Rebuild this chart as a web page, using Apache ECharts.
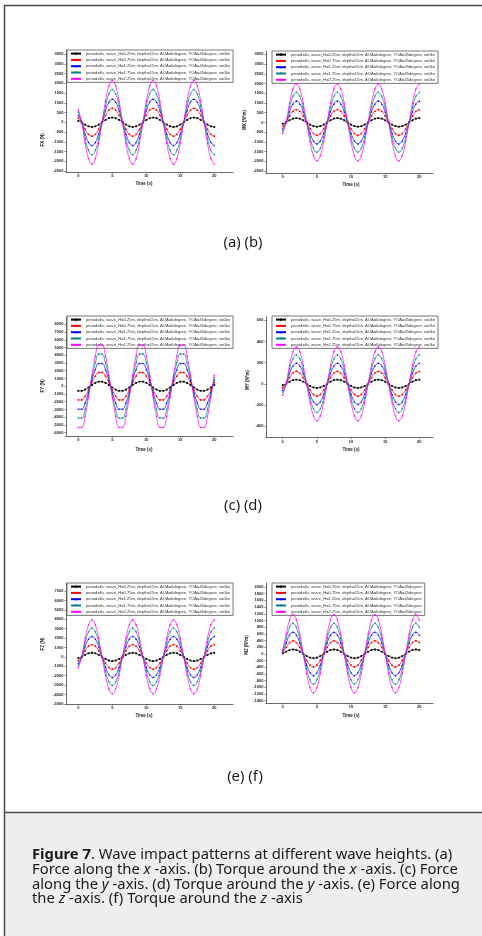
<!DOCTYPE html>
<html>
<head>
<meta charset="utf-8">
<script src="https://cdn.jsdelivr.net/npm/echarts@6/dist/echarts.min.js"></script>
<style>
html,body{margin:0;padding:0;background:#fff;}
#chart{width:482px;height:936px;}
</style>
</head>
<body>
<div id="chart"></div>
<script>
// ---------------- DATA ----------------
const time = [0,0.5,1,1.5,2,2.5,3,3.5,4,4.5,5,5.5,6,6.5,7,7.5,8,8.5,9,9.5,10,10.5,11,11.5,12,12.5,13,13.5,14,14.5,15,15.5,16,16.5,17,17.5,18,18.5,19,19.5,20];
const xTicks = [0,5,10,15,20];

const namesAE = [
  'period=6s, wave_H=0.25m, depth=15m, AOA=0degree, YOA=45degree, v=0kn',
  'period=6s, wave_H=0.75m, depth=15m, AOA=0degree, YOA=45degree, v=0kn',
  'period=6s, wave_H=1.25m, depth=15m, AOA=0degree, YOA=45degree, v=0kn',
  'period=6s, wave_H=1.75m, depth=15m, AOA=0degree, YOA=45degree, v=0kn',
  'period=6s, wave_H=2.25m, depth=15m, AOA=0degree, YOA=45degree, v=0kn'
];
const namesF = [
  'period=6s, wave_H=0.25m, depth=15m, AOA=0degree, YOA=45degree',
  'period=6s, wave_H=0.75m, depth=15m, AOA=0degree, YOA=45degree',
  'period=6s, wave_H=1.25m, depth=15m, AOA=0degree, YOA=45degree',
  'period=6s, wave_H=1.75m, depth=15m, AOA=0degree, YOA=45degree',
  'period=6s, wave_H=2.25m, depth=15m, AOA=0degree, YOA=45degree'
];

// (a) FX (N)
const fxTicks = [-2500,-2000,-1500,-1000,-500,0,500,1000,1500,2000,2500,3000,3500];
const fxBlack = [72,0,-120,-208,-240,-208,-120,0,120,208,240,208,120,0,-120,-208,-240,-208,-120,0,120,208,240,208,120,0,-120,-208,-240,-208,-120,0,120,208,240,208,120,0,-120,-208,-240];
const fxRed = [215,0,-358,-619,-715,-619,-358,0,358,619,715,619,358,0,-358,-619,-715,-619,-358,0,358,619,715,619,358,0,-358,-619,-715,-619,-358,0,358,619,715,619,358,0,-358,-619,-715];
const fxBlue = [357,0,-595,-1031,-1190,-1031,-595,0,595,1031,1190,1031,595,0,-595,-1031,-1190,-1031,-595,0,595,1031,1190,1031,595,0,-595,-1031,-1190,-1031,-595,0,595,1031,1190,1031,595,0,-595,-1031,-1190];
const fxTeal = [501,0,-835,-1446,-1670,-1446,-835,0,835,1446,1670,1446,835,0,-835,-1446,-1670,-1446,-835,0,835,1446,1670,1446,835,0,-835,-1446,-1670,-1446,-835,0,835,1446,1670,1446,835,0,-835,-1446,-1670];
const fxPink = [645,0,-1075,-1862,-2150,-1862,-1075,0,1075,1862,2150,1862,1075,0,-1075,-1862,-2150,-1862,-1075,0,1075,1862,2150,1862,1075,0,-1075,-1862,-2150,-1862,-1075,0,1075,1862,2150,1862,1075,0,-1075,-1862,-2150];

// (b) MX (N*m)
const mxTicks = [-2500,-2000,-1500,-1000,-500,0,500,1000,1500,2000,2500,3000,3500];
const mxBlack = [-64,0,110,191,220,191,110,0,-110,-191,-220,-191,-110,0,110,191,220,191,110,0,-110,-191,-220,-191,-110,0,110,191,220,191,110,0,-110,-191,-220,-191,-110,0,110,191,220];
const mxRed = [-190,0,330,572,660,572,330,0,-330,-572,-660,-572,-330,0,330,572,660,572,330,0,-330,-572,-660,-572,-330,0,330,572,660,572,330,0,-330,-572,-660,-572,-330,0,330,572,660];
const mxBlue = [-320,0,550,953,1100,953,550,0,-550,-953,-1100,-953,-550,0,550,953,1100,953,550,0,-550,-953,-1100,-953,-550,0,550,953,1100,953,550,0,-550,-953,-1100,-953,-550,0,550,953,1100];
const mxTeal = [-450,0,770,1334,1540,1334,770,0,-770,-1334,-1540,-1334,-770,0,770,1334,1540,1334,770,0,-770,-1334,-1540,-1334,-770,0,770,1334,1540,1334,770,0,-770,-1334,-1540,-1334,-770,0,770,1334,1540];
const mxPink = [-565,0,990,1715,1980,1715,990,0,-990,-1715,-1980,-1715,-990,0,990,1715,1980,1715,990,0,-990,-1715,-1980,-1715,-990,0,990,1715,1980,1715,990,0,-990,-1715,-1980,-1715,-990,0,990,1715,1980];

// (c) FY (N)
const fyTicks = [-6000,-5000,-4000,-3000,-2000,-1000,0,1000,2000,3000,4000,5000,6000,7000,8000];
const fyBlack = [-590,-590,-432,-158,158,432,590,590,432,158,-158,-432,-590,-590,-432,-158,158,432,590,590,432,158,-158,-432,-590,-590,-432,-158,158,432,590,590,432,158,-158,-432,-590,-590,-432,-158,158];
const fyRed = [-1771,-1771,-1296,-475,475,1296,1771,1771,1296,475,-475,-1296,-1771,-1771,-1296,-475,475,1296,1771,1771,1296,475,-475,-1296,-1771,-1771,-1296,-475,475,1296,1771,1771,1296,475,-475,-1296,-1771,-1771,-1296,-475,475];
const fyBlue = [-2951,-2951,-2160,-791,791,2160,2951,2951,2160,791,-791,-2160,-2951,-2951,-2160,-791,791,2160,2951,2951,2160,791,-791,-2160,-2951,-2951,-2160,-791,791,2160,2951,2951,2160,791,-791,-2160,-2951,-2951,-2160,-791,791];
const fyTeal = [-4132,-4132,-3024,-1108,1108,3024,4132,4132,3024,1108,-1108,-3024,-4132,-4132,-3024,-1108,1108,3024,4132,4132,3024,1108,-1108,-3024,-4132,-4132,-3024,-1108,1108,3024,4132,4132,3024,1108,-1108,-3024,-4132,-4132,-3024,-1108,1108];
const fyPink = [-5313,-5313,-3889,-1425,1425,3889,5313,5313,3889,1425,-1425,-3889,-5313,-5313,-3889,-1425,1425,3889,5313,5313,3889,1425,-1425,-3889,-5313,-5313,-3889,-1425,1425,3889,5313,5313,3889,1425,-1425,-3889,-5313,-5313,-3889,-1425,1425];

// (d) MY (N*m)
const myTicks = [-400,-200,0,200,400,600];
const myBlack = [-12,0,20,34,39,34,20,0,-20,-34,-39,-34,-20,0,20,34,39,34,20,0,-20,-34,-39,-34,-20,0,20,34,39,34,20,0,-20,-34,-39,-34,-20,0,20,34,39];
const myRed = [-35,0,58,101,117,101,58,0,-58,-101,-117,-101,-58,0,58,101,117,101,58,0,-58,-101,-117,-101,-58,0,58,101,117,101,58,0,-58,-101,-117,-101,-58,0,58,101,117];
const myBlue = [-58,0,98,169,195,169,98,0,-98,-169,-195,-169,-98,0,98,169,195,169,98,0,-98,-169,-195,-169,-98,0,98,169,195,169,98,0,-98,-169,-195,-169,-98,0,98,169,195];
const myTeal = [-80,0,136,236,272,236,136,0,-136,-236,-272,-236,-136,0,136,236,272,236,136,0,-136,-236,-272,-236,-136,0,136,236,272,236,136,0,-136,-236,-272,-236,-136,0,136,236,272];
const myPink = [-107,0,175,303,350,303,175,0,-175,-303,-350,-303,-175,0,175,303,350,303,175,0,-175,-303,-350,-303,-175,0,175,303,350,303,175,0,-175,-303,-350,-303,-175,0,175,303,350];

// (e) FZ (N)
const fzTicks = [-5000,-4000,-3000,-2000,-1000,0,1000,2000,3000,4000,5000,6000,7000];
const fzBlack = [-130,0,220,381,440,381,220,0,-220,-381,-440,-381,-220,0,220,381,440,381,220,0,-220,-381,-440,-381,-220,0,220,381,440,381,220,0,-220,-381,-440,-381,-220,0,220,381,440];
const fzRed = [-390,0,655,1134,1310,1134,655,0,-655,-1134,-1310,-1134,-655,0,655,1134,1310,1134,655,0,-655,-1134,-1310,-1134,-655,0,655,1134,1310,1134,655,0,-655,-1134,-1310,-1134,-655,0,655,1134,1310];
const fzBlue = [-650,0,1090,1888,2180,1888,1090,0,-1090,-1888,-2180,-1888,-1090,0,1090,1888,2180,1888,1090,0,-1090,-1888,-2180,-1888,-1090,0,1090,1888,2180,1888,1090,0,-1090,-1888,-2180,-1888,-1090,0,1090,1888,2180];
const fzTeal = [-910,0,1525,2641,3050,2641,1525,0,-1525,-2641,-3050,-2641,-1525,0,1525,2641,3050,2641,1525,0,-1525,-2641,-3050,-2641,-1525,0,1525,2641,3050,2641,1525,0,-1525,-2641,-3050,-2641,-1525,0,1525,2641,3050];
const fzPink = [-1160,0,1960,3395,3920,3395,1960,0,-1960,-3395,-3920,-3395,-1960,0,1960,3395,3920,3395,1960,0,-1960,-3395,-3920,-3395,-1960,0,1960,3395,3920,3395,1960,0,-1960,-3395,-3920,-3395,-1960,0,1960,3395,3920];

// (f) MZ (N*m)
const mzTicks = [-1400,-1200,-1000,-800,-600,-400,-200,0,200,400,600,800,1000,1200,1400,1600,1800,2000];
const mzBlack = [13,65,113,130,113,65,0,-65,-113,-130,-113,-65,0,65,113,130,113,65,0,-65,-113,-130,-113,-65,0,65,113,130,113,65,0,-65,-113,-130,-113,-65,0,65,113,130,113];
const mzRed = [39,195,338,390,338,195,0,-195,-338,-390,-338,-195,0,195,338,390,338,195,0,-195,-338,-390,-338,-195,0,195,338,390,338,195,0,-195,-338,-390,-338,-195,0,195,338,390,338];
const mzBlue = [65,325,563,650,563,325,0,-325,-563,-650,-563,-325,0,325,563,650,563,325,0,-325,-563,-650,-563,-325,0,325,563,650,563,325,0,-325,-563,-650,-563,-325,0,325,563,650,563];
const mzTeal = [91,455,788,910,788,455,0,-455,-788,-910,-788,-455,0,455,788,910,788,455,0,-455,-788,-910,-788,-455,0,455,788,910,788,455,0,-455,-788,-910,-788,-455,0,455,788,910,788];
const mzPink = [117,585,1013,1170,1013,585,0,-585,-1013,-1170,-1013,-585,0,585,1013,1170,1013,585,0,-585,-1013,-1170,-1013,-585,0,585,1013,1170,1013,585,0,-585,-1013,-1170,-1013,-585,0,585,1013,1170,1013];

// ---------------- STYLE / LAYOUT ----------------
const colors = ['#000000','#ff0000','#0000ff','#008080','#ff00ff'];
const symbols = ['rect','circle','triangle','triangle','diamond'];
const rotations = [0,0,0,180,0];
const FONT = '"Liberation Sans", Arial, sans-serif';
const plain = v => String(v);

const panels = [
  {series:[fxBlack,fxRed,fxBlue,fxTeal,fxPink], names:namesAE, ticks:fxTicks, title:'FX (N)', tpos:[43,140],
   grid:{left:66, top:50, width:167, height:122}, xr:[-1.81,22.75], yr:[-2550,3705], leg:[67,50], tgap:9, tpad:[0,11,0,0]},
  {series:[mxBlack,mxRed,mxBlue,mxTeal,mxPink], names:namesAE, ticks:mxTicks, title:'MX (N*m)', tpos:[245,120],
   grid:{left:266, top:51, width:167, height:122}, xr:[-2.45,22.0], yr:[-2600,3670], leg:[272,51], tgap:9, tpad:[0,0,0,3]},
  {series:[fyBlack,fyRed,fyBlue,fyTeal,fyPink], names:namesAE, ticks:fyTicks, title:'FY (N)', tpos:[43,386],
   grid:{left:66, top:317, width:167, height:119}, xr:[-1.81,22.75], yr:[-6425,8940], leg:[67,316], tgap:11, tpad:[0,11,0,0]},
  {series:[myBlack,myRed,myBlue,myTeal,myPink], names:namesAE, ticks:myTicks, title:'MY (N*m)', tpos:[248,380],
   grid:{left:266, top:317, width:167, height:120.5}, xr:[-2.45,22.0], yr:[-507,631], leg:[272,316], tgap:10, tpad:[0,0,0,3]},
  {series:[fzBlack,fzRed,fzBlue,fzTeal,fzPink], names:namesAE, ticks:fzTicks, title:'FZ (N)', tpos:[43,644],
   grid:{left:66, top:583, width:167, height:121}, xr:[-1.81,22.75], yr:[-5000,7847], leg:[67,583], tgap:9.5, tpad:[0,11,0,0]},
  {series:[mzBlack,mzRed,mzBlue,mzTeal,mzPink], names:namesF, ticks:mzTicks, title:'MZ (N*m)', tpos:[247,645],
   grid:{left:266, top:583, width:167, height:120}, xr:[-2.45,22.0], yr:[-1470,2120], leg:[272,583], tgap:10.5, tpad:[0,0,0,3]}
];

const grids = [], xAxes = [], yAxes = [], series = [], legends = [];
const lineSt = {show:true, onZero:false, lineStyle:{color:'#444', width:0.8}};
panels.forEach((p, i) => {
  grids.push(Object.assign({containLabel:false}, p.grid));
  xAxes.push({
    type:'value', gridIndex:i, min:p.xr[0], max:p.xr[1],
    name:'Time (s)', nameLocation:'middle', nameGap:p.tgap,
    nameTextStyle:{fontSize:4.5, fontWeight:'bold', color:'#222', fontFamily:FONT, padding:p.tpad},
    axisLine:lineSt, splitLine:{show:false},
    axisLabel:{customValues:xTicks, formatter:plain, fontSize:4, fontWeight:'bold', color:'#222', margin:2, fontFamily:FONT},
    axisTick:{show:true, customValues:xTicks, length:1.6, lineStyle:{color:'#444', width:0.6}}
  });
  yAxes.push({
    type:'value', gridIndex:i, min:p.yr[0], max:p.yr[1],
    axisLine:lineSt, splitLine:{show:false},
    axisLabel:{customValues:p.ticks, formatter:plain, fontSize:4, fontWeight:'bold', color:'#222', margin:2.5, fontFamily:FONT},
    axisTick:{show:true, customValues:p.ticks, length:1.6, lineStyle:{color:'#444', width:0.6}}
  });
  p.series.forEach((vals, k) => {
    series.push({
      type:'line', name:p.names[k], xAxisIndex:i, yAxisIndex:i,
      data: time.map((t, j) => [t, vals[j]]),
      smooth:0.45, symbol:symbols[k], symbolSize:1.8, symbolRotate:rotations[k],
      lineStyle:{color:colors[k], width:0.7}, itemStyle:{color:colors[k]},
      z:2+k, silent:true
    });
  });
  legends.push({
    data:p.names, orient:'vertical', left:p.leg[0], top:p.leg[1],
    itemWidth:10, itemHeight:2.6, itemGap:2.3, padding:[1.6,3,1.6,3],
    borderColor:'#555', borderWidth:0.8, backgroundColor:'#fff',
    textStyle:{fontSize:4.1, color:'#333', fontFamily:FONT},
    selectedMode:false
  });
});

const capFont = '"Noto Sans", "Open Sans", sans-serif';
const CAP_SIZE = 14.8;
const rich = {
  b:{fontWeight:'bold', fontSize:CAP_SIZE, fontFamily:capFont, color:'#1a1a1a'},
  i:{fontStyle:'italic', fontSize:CAP_SIZE, fontFamily:capFont, color:'#1a1a1a'}
};
const capLines = [
  '{b|Figure 7}. Wave impact patterns at different wave heights. (a)',
  'Force along the {i|x} -axis. (b) Torque around the {i|x} -axis. (c) Force',
  'along the {i|y} -axis. (d) Torque around the {i|y} -axis. (e) Force along',
  'the {i|z} -axis. (f) Torque around the {i|z} -axis'
];
const capY = [855, 869.7, 884.3, 899];

const graphic = [
  {type:'rect', z:-10, silent:true, shape:{x:5, y:813, width:480, height:130}, style:{fill:'#eeeeee'}},
  {type:'rect', z:100, silent:true, shape:{x:4.5, y:5.5, width:490, height:940}, style:{fill:'none', stroke:'#4a4a4a', lineWidth:1.5}},
  {type:'line', z:100, silent:true, shape:{x1:4, y1:812.5, x2:482, y2:812.5}, style:{stroke:'#4a4a4a', lineWidth:1.5}},
  {type:'text', x:243, y:243, style:{text:'(a) (b)', font:CAP_SIZE + 'px ' + capFont, fill:'#1a1a1a', textAlign:'center', textVerticalAlign:'middle'}},
  {type:'text', x:243, y:506, style:{text:'(c) (d)', font:CAP_SIZE + 'px ' + capFont, fill:'#1a1a1a', textAlign:'center', textVerticalAlign:'middle'}},
  {type:'text', x:245, y:777, style:{text:'(e) (f)', font:CAP_SIZE + 'px ' + capFont, fill:'#1a1a1a', textAlign:'center', textVerticalAlign:'middle'}}
];
capLines.forEach((line, i) => {
  graphic.push({type:'text', x:32, y:capY[i], style:{text:line, rich:rich, font:CAP_SIZE + 'px ' + capFont, fill:'#1a1a1a', textAlign:'left', textVerticalAlign:'middle'}});
});
panels.forEach(p => {
  graphic.push({type:'text', x:p.tpos[0], y:p.tpos[1], rotation:Math.PI/2,
    style:{text:p.title, font:'bold 4.5px ' + FONT, fill:'#222', textAlign:'center', textVerticalAlign:'middle'}});
});

const chart = echarts.init(document.getElementById('chart'), null, {renderer:'canvas'});
chart.setOption({
  animation:false,
  backgroundColor:'#ffffff',
  grid:grids, xAxis:xAxes, yAxis:yAxes, series:series, legend:legends, graphic:graphic
});
</script>
</body>
</html>
